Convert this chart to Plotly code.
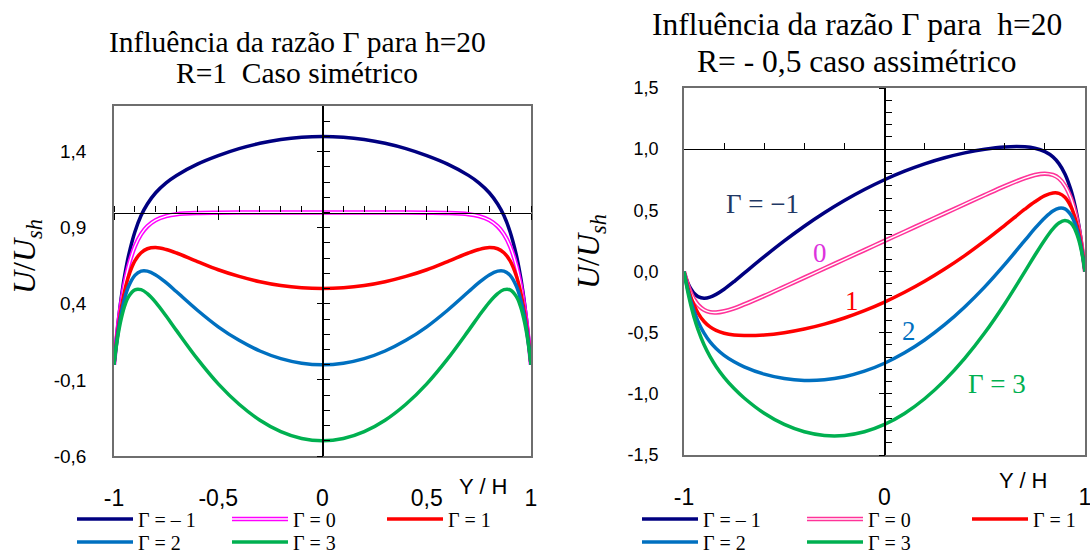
import plotly.graph_objects as go

W, H = 1090, 554

# ---------------- data ----------------
# Y/H positions (shared grid for both panels)
yh = [-1, -0.99, -0.98, -0.97, -0.96, -0.95, -0.93, -0.9, -0.87, -0.84, -0.8, -0.75, -0.7,
      -0.6, -0.5, -0.4, -0.3, -0.2, -0.1, 0, 0.1, 0.2, 0.3, 0.4, 0.5, 0.6, 0.7, 0.75, 0.8,
      0.84, 0.87, 0.9, 0.93, 0.95, 0.96, 0.97, 0.98, 0.99, 1]

# Left panel: R = 1 (symmetric)
left_gm1 = [0, 0.149, 0.279, 0.392, 0.490, 0.577, 0.718, 0.872, 0.980, 1.056, 1.130, 1.195, 1.244,
            1.318, 1.374, 1.420, 1.455, 1.480, 1.495, 1.500, 1.495, 1.480, 1.455, 1.420, 1.374, 1.318,
            1.244, 1.195, 1.130, 1.056, 0.980, 0.872, 0.718, 0.577, 0.490, 0.392, 0.279, 0.149, 0]
left_g0 = [0, 0.139, 0.259, 0.362, 0.451, 0.528, 0.650, 0.777, 0.858, 0.909, 0.950, 0.976, 0.989,
           0.997, 0.999, 1.0, 1.0, 1.0, 1.0, 1.0, 1.0, 1.0, 1.0, 1.0, 0.999, 0.997,
           0.989, 0.976, 0.950, 0.909, 0.858, 0.777, 0.650, 0.528, 0.451, 0.362, 0.259, 0.139, 0]
left_g1 = [0, 0.129, 0.239, 0.332, 0.412, 0.479, 0.582, 0.682, 0.736, 0.762, 0.770, 0.757, 0.734,
           0.678, 0.624, 0.580, 0.545, 0.520, 0.505, 0.500, 0.505, 0.520, 0.545, 0.580, 0.624, 0.678,
           0.734, 0.757, 0.770, 0.762, 0.736, 0.682, 0.582, 0.479, 0.412, 0.332, 0.239, 0.129, 0]
left_g2 = [0, 0.119, 0.219, 0.303, 0.373, 0.431, 0.515, 0.587, 0.615, 0.615, 0.590, 0.539, 0.479,
           0.358, 0.249, 0.160, 0.090, 0.040, 0.010, 0.0, 0.010, 0.040, 0.090, 0.160, 0.249, 0.358,
           0.479, 0.539, 0.590, 0.615, 0.615, 0.587, 0.515, 0.431, 0.373, 0.303, 0.219, 0.119, 0]
left_g3 = [0, 0.109, 0.200, 0.273, 0.333, 0.382, 0.447, 0.492, 0.493, 0.467, 0.410, 0.320, 0.224,
           0.038, -0.126, -0.260, -0.365, -0.440, -0.485, -0.500, -0.485, -0.440, -0.365, -0.260, -0.126, 0.038,
           0.224, 0.320, 0.410, 0.467, 0.493, 0.492, 0.447, 0.382, 0.333, 0.273, 0.200, 0.109, 0]

# Right panel: R = -0.5 (asymmetric)
right_gm1 = [0, -0.052, -0.095, -0.129, -0.156, -0.178, -0.205, -0.219, -0.210, -0.187, -0.145, -0.082, -0.014,
             0.121, 0.250, 0.370, 0.480, 0.580, 0.670, 0.750, 0.820, 0.880, 0.930, 0.970, 1.000, 1.018,
             1.019, 1.008, 0.980, 0.937, 0.882, 0.797, 0.665, 0.539, 0.460, 0.369, 0.264, 0.142, 0]
right_g0 = [0, -0.062, -0.115, -0.159, -0.196, -0.227, -0.273, -0.314, -0.332, -0.335, -0.325, -0.301, -0.269,
            -0.199, -0.125, -0.050, 0.025, 0.100, 0.175, 0.250, 0.325, 0.400, 0.475, 0.550, 0.625, 0.698,
            0.764, 0.789, 0.800, 0.789, 0.761, 0.702, 0.598, 0.491, 0.421, 0.340, 0.244, 0.132, 0]
right_g1 = [0, -0.072, -0.134, -0.188, -0.235, -0.275, -0.340, -0.409, -0.453, -0.482, -0.505, -0.520, -0.524,
            -0.519, -0.500, -0.470, -0.430, -0.380, -0.320, -0.250, -0.170, -0.080, 0.020, 0.130, 0.250, 0.378,
            0.509, 0.570, 0.620, 0.642, 0.639, 0.607, 0.530, 0.442, 0.382, 0.310, 0.224, 0.122, 0]
right_g2 = [0, -0.082, -0.154, -0.218, -0.274, -0.324, -0.408, -0.504, -0.575, -0.629, -0.685, -0.738, -0.779,
            -0.839, -0.875, -0.890, -0.885, -0.860, -0.815, -0.750, -0.665, -0.560, -0.435, -0.290, -0.126, 0.058,
            0.254, 0.352, 0.440, 0.495, 0.517, 0.512, 0.462, 0.393, 0.343, 0.280, 0.204, 0.112, 0]
right_g3 = [0, -0.092, -0.174, -0.247, -0.313, -0.373, -0.475, -0.599, -0.696, -0.776, -0.865, -0.957, -1.034,
            -1.159, -1.250, -1.310, -1.340, -1.340, -1.310, -1.250, -1.160, -1.040, -0.890, -0.710, -0.501, -0.263,
            -0.001, 0.133, 0.260, 0.348, 0.396, 0.417, 0.395, 0.344, 0.303, 0.251, 0.185, 0.102, 0]

series_names = ["Γ = – 1", "Γ = 0", "Γ = 1", "Γ = 2", "Γ = 3"]
left_series = [left_gm1, left_g0, left_g1, left_g2, left_g3]
right_series = [right_gm1, right_g0, right_g1, right_g2, right_g3]
left_colors = ["#000080", "#FF00FF", "#FF0000", "#0070C0", "#00B050"]
right_colors = ["#000080", "#FF3399", "#FF0000", "#0070C0", "#00B050"]

left_xticks = [-1, -0.5, 0, 0.5, 1]
left_xtext = ["-1", "-0,5", "0", "0,5", "1"]
left_yticks = [-0.6, -0.1, 0.4, 0.9, 1.4]
left_ytext = ["-0,6", "-0,1", "0,4", "0,9", "1,4"]
left_yrange = [-0.6, 1.7]
left_axis_y = 1.0   # horizontal axis crosses at U/Ush = 1

right_xticks = [-1, 0, 1]
right_xtext = ["-1", "0", "1"]
right_yticks = [-1.5, -1.0, -0.5, 0.0, 0.5, 1.0, 1.5]
right_ytext = ["-1,5", "-1,0", "-0,5", "0,0", "0,5", "1,0", "1,5"]
right_yrange = [-1.5, 1.5]
right_axis_y = 1.0

# in-plot labels of the right panel
right_labels = [("Γ = −1", -0.61, 0.55, "#1F3864"),
                ("0", -0.32, 0.15, "#DD33DD"),
                ("1", -0.16, -0.24, "#FF0000"),
                ("2", 0.12, -0.49, "#0070C0"),
                ("Γ = 3", 0.56, -0.92, "#00B050")]

# ---------------- layout geometry (pixels) ----------------
L_box = (114, 531, 106, 456)    # left, right, top, bottom
R_box = (684, 1085, 88, 455)


def xdom(b):
    return [b[0] / W, b[1] / W]


def ydom(b):
    return [1 - b[3] / H, 1 - b[2] / H]


def ypos(b, rng, v):
    d = ydom(b)
    return d[0] + (v - rng[0]) / (rng[1] - rng[0]) * (d[1] - d[0])


def xpos(b, rng, v):
    d = xdom(b)
    return d[0] + (v - rng[0]) / (rng[1] - rng[0]) * (d[1] - d[0])


fig = go.Figure()

legend_ids_left = ["legend", "legend", "legend", "legend2", "legend2"]
legend_ids_right = ["legend3", "legend3", "legend3", "legend4", "legend4"]

for i, (name, vals, col) in enumerate(zip(series_names, left_series, left_colors)):
    fig.add_trace(go.Scatter(x=yh, y=vals, mode="lines", name=name, xaxis="x", yaxis="y",
                             line=dict(color=col, width=4.5 if i == 1 else 3.5, shape="spline"),
                             legend=legend_ids_left[i], hoverinfo="skip"))
    if i == 1:  # white core of the double line (its legend sample overlays the Γ = 0 sample)
        fig.add_trace(go.Scatter(x=yh, y=vals, mode="lines", name=" ", showlegend=True, legend="legend5",
                                 xaxis="x", yaxis="y",
                                 line=dict(color="white", width=1.4, shape="spline"), hoverinfo="skip"))

for i, (name, vals, col) in enumerate(zip(series_names, right_series, right_colors)):
    fig.add_trace(go.Scatter(x=yh, y=vals, mode="lines", name=name, xaxis="x2", yaxis="y2",
                             line=dict(color=col, width=4.5 if i == 1 else 3.5, shape="spline"),
                             legend=legend_ids_right[i], hoverinfo="skip"))
    if i == 1:
        fig.add_trace(go.Scatter(x=yh, y=vals, mode="lines", name=" ", showlegend=True, legend="legend6",
                                 xaxis="x2", yaxis="y2",
                                 line=dict(color="white", width=1.4, shape="spline"), hoverinfo="skip"))

# empty traces so that the inner (crossing) axes get drawn
for xa, ya in [("x3", "y"), ("x", "y3"), ("x", "y4"), ("x4", "y2"), ("x2", "y5"), ("x2", "y6")]:
    fig.add_trace(go.Scatter(x=[], y=[], xaxis=xa, yaxis=ya, showlegend=False, hoverinfo="skip"))

border = dict(showline=True, mirror=True, linecolor="#6E6E6E", linewidth=1.5, showgrid=False,
              zeroline=False, ticks="", automargin=False, ticklabeloverflow="allow")
tickfont_x = dict(family="Liberation Sans, Arial", size=23, color="black")
inner = dict(showgrid=False, zeroline=False, showticklabels=False, automargin=False)

fig.update_layout(
    width=W, height=H, margin=dict(l=0, r=0, t=0, b=0, autoexpand=False),
    paper_bgcolor="white", plot_bgcolor="white",
    xaxis=dict(domain=xdom(L_box), range=[-1, 1], anchor="y", tickmode="array",
               tickvals=left_xticks, ticktext=left_xtext, tickfont=tickfont_x,
               ticklabelstandoff=21, **border),
    yaxis=dict(domain=ydom(L_box), range=left_yrange, anchor="x", tickmode="array",
               tickvals=left_yticks, ticktext=left_ytext,
               tickfont=dict(family="Liberation Sans, Arial", size=19, color="black"),
               ticklabelstandoff=22, **border),
    xaxis2=dict(domain=xdom(R_box), range=[-1, 1], anchor="y2", tickmode="array",
                tickvals=right_xticks, ticktext=right_xtext, tickfont=tickfont_x,
                ticklabelstandoff=21, **border),
    yaxis2=dict(domain=ydom(R_box), range=right_yrange, anchor="x2", tickmode="array",
                tickvals=right_yticks, ticktext=right_ytext,
                tickfont=dict(family="Liberation Sans, Arial", size=18, color="black"),
                ticklabelstandoff=20, **border),
    # left panel crossing axes
    xaxis3=dict(overlaying="x", anchor="free", position=ypos(L_box, left_yrange, left_axis_y),
                range=[-1, 1], showline=True, linecolor="black", linewidth=1.3,
                tickmode="linear", tick0=-1, dtick=0.5,
                ticks="outside", ticklen=6, tickwidth=1.3, tickcolor="black",
                minor=dict(dtick=0.1, tick0=-1, ticks="inside", ticklen=6, tickwidth=1.2, tickcolor="black"),
                **inner),
    yaxis3=dict(overlaying="y", anchor="free", position=xpos(L_box, [-1, 1], 0), side="left",
                range=left_yrange, showline=True, linecolor="black", linewidth=2,
                tickmode="linear", tick0=-0.6, dtick=0.1,
                ticks="inside", ticklen=6, tickwidth=1.3, tickcolor="black", **inner),
    yaxis4=dict(overlaying="y", anchor="free", position=xpos(L_box, [-1, 1], 0), side="left",
                range=left_yrange, showline=False, tickmode="linear", tick0=-0.6, dtick=0.5,
                ticks="outside", ticklen=6, tickwidth=1.3, tickcolor="black", **inner),
    # right panel crossing axes
    xaxis4=dict(overlaying="x2", anchor="free", position=ypos(R_box, right_yrange, right_axis_y),
                range=[-1, 1], showline=True, linecolor="black", linewidth=1.3,
                tickmode="linear", tick0=-1, dtick=0.2,
                ticks="inside", ticklen=6, tickwidth=1.3, tickcolor="black", **inner),
    yaxis5=dict(overlaying="y2", anchor="free", position=xpos(R_box, [-1, 1], 0), side="left",
                range=right_yrange, showline=True, linecolor="black", linewidth=2,
                tickmode="linear", tick0=-1.5, dtick=0.1,
                ticks="inside", ticklen=6, tickwidth=1.3, tickcolor="black", **inner),
    yaxis6=dict(overlaying="y2", anchor="free", position=xpos(R_box, [-1, 1], 0), side="left",
                range=right_yrange, showline=False, tickmode="linear", tick0=-1.5, dtick=0.5,
                ticks="outside", ticklen=6, tickwidth=1.3, tickcolor="black", **inner),
)

leg_common = dict(orientation="h", itemwidth=56, entrywidthmode="pixels",
                  bgcolor="rgba(0,0,0,0)", borderwidth=0, xanchor="left", yanchor="middle",
                  font=dict(family="Liberation Serif, Times New Roman", size=20, color="black"),
                  tracegroupgap=0, itemclick=False, itemdoubleclick=False)
L_leg_x, R_leg_x = 72, 637          # pixel x of the legend blocks
L_step, R_step = 84, 94             # entry widths
L_pitch, R_pitch = L_step + 56 + 15, R_step + 56 + 15
row1, row2 = 519, 542
fig.update_layout(
    legend=dict(x=L_leg_x / W, y=1 - row1 / H, entrywidth=L_step, **leg_common),
    legend2=dict(x=L_leg_x / W, y=1 - row2 / H, entrywidth=L_step, **leg_common),
    legend3=dict(x=R_leg_x / W, y=1 - row1 / H, entrywidth=R_step, **leg_common),
    legend4=dict(x=R_leg_x / W, y=1 - row2 / H, entrywidth=R_step, **leg_common),
    legend5=dict(x=(L_leg_x + L_pitch) / W, y=1 - row1 / H, entrywidth=L_step, **leg_common),
    legend6=dict(x=(R_leg_x + R_pitch) / W, y=1 - row1 / H, entrywidth=R_step, **leg_common),
)

serif = "Liberation Serif, Times New Roman"
ann = []
# titles
for txt, xp, yp, sz in [("Influência da razão Γ para h=20", 297, 42, 29.5),
                        ("R=1  Caso simétrico", 297, 73, 29.5),
                        ("Influência da razão Γ para  h=20", 857, 25, 31.5),
                        ("R= - 0,5 caso assimétrico", 857, 61, 31.5)]:
    ann.append(dict(text=txt, x=xp / W, y=1 - yp / H, xref="paper", yref="paper", showarrow=False,
                    xanchor="center", yanchor="middle",
                    font=dict(family=serif, size=sz, color="black")))

ytitle = "<i>U</i>/<i>U</i><sub><i>sh</i></sub>"
for xp, yp in [(27, 257), (590, 252)]:
    ann.append(dict(text=ytitle, x=xp / W, y=1 - yp / H, xref="paper", yref="paper", showarrow=False,
                    textangle=-90, xanchor="center", yanchor="middle",
                    font=dict(family=serif, size=32, color="black")))

for xp, yp in [(483, 487), (1023, 480)]:
    ann.append(dict(text="Y / H", x=xp / W, y=1 - yp / H, xref="paper", yref="paper", showarrow=False,
                    xanchor="center", yanchor="middle",
                    font=dict(family="Liberation Sans, Arial", size=22, color="black")))

for txt, xv, yv, col in right_labels:
    ann.append(dict(text=txt, x=xv, y=yv, xref="x2", yref="y2", showarrow=False,
                    xanchor="center", yanchor="middle",
                    font=dict(family=serif, size=27, color=col)))

fig.update_layout(annotations=ann)

fig.write_html("out.html")
